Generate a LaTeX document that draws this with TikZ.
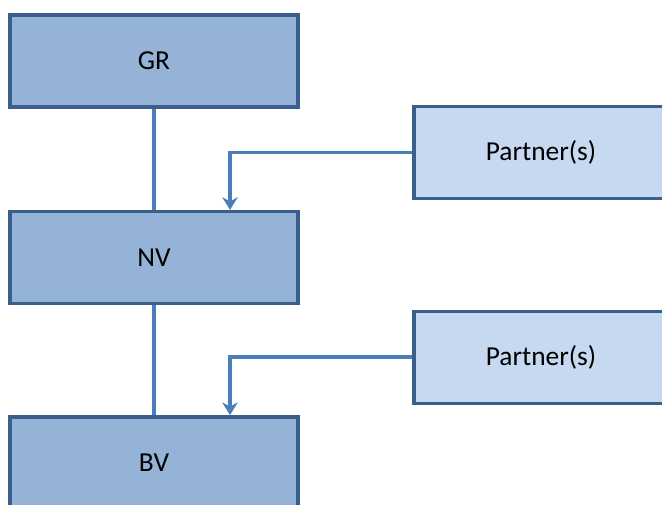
\documentclass[tikz,border=0pt]{standalone}
\usepackage{fontspec}
\setmainfont{Carlito}
\usetikzlibrary{arrows.meta,positioning,calc}

\definecolor{boxdark}{HTML}{95B3D7}
\definecolor{boxlight}{HTML}{C6D9F1}
\definecolor{boxline}{HTML}{3B5F8C}
\definecolor{linkblue}{HTML}{4A7EBB}

\begin{document}
\begin{tikzpicture}[
    unit/.style={draw=boxline, line width=2.4pt, minimum width=7.2cm, minimum height=2.3cm, align=center, font=\fontsize{19.5}{23}\selectfont, fill=boxdark},
    partner/.style={unit, fill=boxlight, minimum width=6.35cm},
    link/.style={line width=2.6pt, linkblue},
    feed/.style={link, -{Stealth[length=9pt,width=11pt,inset=3pt]}}
]
\useasboundingbox (0,0) rectangle (16.55,-12.6);
\clip (0,0) rectangle (16.55,-12.6);

\node[unit] (gr) at (3.85,-1.525) {GR};
\node[unit] (nv) at (3.85,-6.44) {NV};
\node[unit] (bv) at (3.85,-11.57) {BV};
\node[partner] (p1) at (13.525,-3.81) {Partner(s)};
\node[partner] (p2) at (13.525,-8.93) {Partner(s)};

\draw[link] (gr.south) -- (nv.north);
\draw[link] (nv.south) -- (bv.north);
\draw[feed] (p1.west) -| ([xshift=1.9cm]nv.north);
\draw[feed] (p2.west) -| ([xshift=1.9cm]bv.north);
\end{tikzpicture}
\end{document}
